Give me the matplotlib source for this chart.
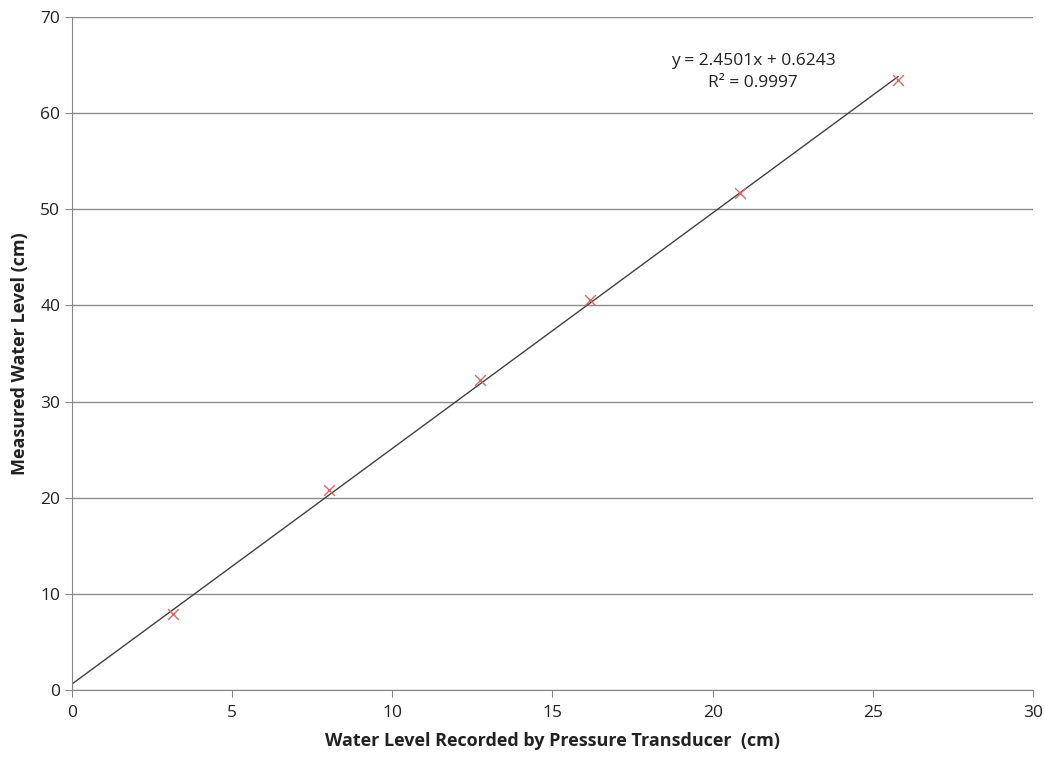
import numpy as np
import matplotlib
matplotlib.use('Agg')
import matplotlib.pyplot as plt

# data
transducer = [3.15, 8.02, 12.74, 16.17, 20.85, 25.79]
measured = [7.9, 20.8, 32.2, 40.6, 51.7, 63.5]
slope, intercept = 2.4501, 0.6243
eq_text = "y = 2.4501x + 0.6243\nR² = 0.9997"

plt.rcParams['font.family'] = ['Open Sans', 'DejaVu Sans']

fig = plt.figure(figsize=(10.45, 7.57), dpi=100)
ax = fig.add_axes([0.0689, 0.0885, 0.9196, 0.889])

# trendline from 0 to last point
xs = np.array([0, transducer[-1]])
ax.plot(xs, slope * xs + intercept, color='#404040', lw=1.0, zorder=2)
ax.scatter(transducer, measured, marker='x', color='#e06666', s=60, lw=1.0, zorder=3)

ax.set_xlim(0, 30)
ax.set_ylim(0, 70)
ax.set_xticks(range(0, 31, 5))
ax.set_yticks(range(0, 71, 10))
ax.yaxis.grid(True, color='#8c8c8c', lw=1.0)
ax.set_axisbelow(True)
for s in ['top', 'right']:
    ax.spines[s].set_visible(False)
for s in ['left', 'bottom']:
    ax.spines[s].set_color('#868686')
ax.tick_params(direction='out', length=5, color='#868686', labelsize=12.5, labelcolor='#222222')
ax.tick_params(axis='x', pad=6)

ax.set_xlabel('Water Level Recorded by Pressure Transducer  (cm)', fontsize=13,
              fontweight='bold', color='#222222', labelpad=8)
ax.set_ylabel('Measured Water Level (cm)', fontsize=13, fontweight='bold',
              color='#222222', labelpad=8)

ax.text(21.26, 64.3, eq_text, ha='center', va='center', fontsize=12.5,
        color='#222222', linespacing=1.45)

fig.savefig('out.png', dpi=100)
